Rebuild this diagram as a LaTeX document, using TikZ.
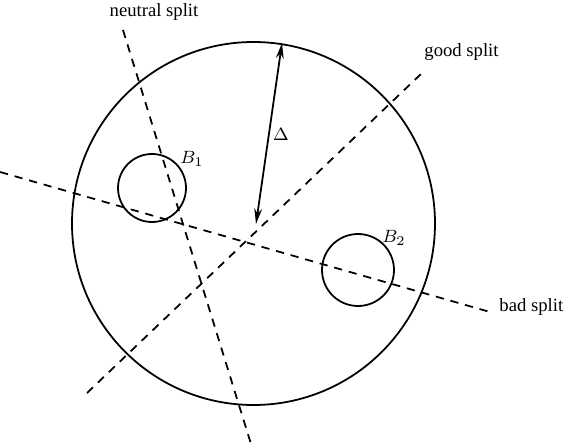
\documentclass[tikz,border=0pt]{standalone}
\usepackage{fontspec}
\setmainfont{Liberation Serif}
\usetikzlibrary{arrows.meta}
\begin{document}
\begin{tikzpicture}[x=0.45pt,y=-0.45pt,
  ring/.style={draw,circle,line width=0.8pt,inner sep=0pt},
  splitline/.style={line width=0.8pt,dash pattern=on 3.7pt off 3.1pt},
  lbl/.style={inner sep=0pt,font=\fontsize{8.4pt}{10pt}\selectfont}]
\useasboundingbox (0,0) rectangle (564,444);
\node[ring,minimum size=363*0.45pt] (big) at (253.5,223.5) {};
\node[ring,minimum size=68*0.45pt] (b1) at (152,188) {};
\node[ring,minimum size=72*0.45pt] (b2) at (358,270) {};
\coordinate (n1) at (123,30);
\coordinate (n2) at (251,444);
\coordinate (g1) at (87,393);
\coordinate (g2) at (422,73);
\coordinate (s1) at (0,172);
\coordinate (s2) at (490,312);
\coordinate (a1) at (256,224);
\coordinate (a2) at (282,43);
\draw[splitline] (n1) -- (n2);
\draw[splitline] (g1) -- (g2);
\draw[splitline] (s1) -- (s2);
\draw[line width=0.8pt,{Stealth[length=7pt,width=3.5pt]}-{Stealth[length=7pt,width=3.5pt]}] (a1) -- (a2);
\node[lbl] (ln) at (154,12) {neutral split};
\node[lbl] (lg) at (461.5,52) {good split};
\node[lbl,anchor=west] (lb) at (499,307) {bad split};
\node[lbl] (lb1) at (192,159) {$B_1$};
\node[lbl] (lb2) at (394,238) {$B_2$};
\node[lbl] (ld) at (281,134) {$\Delta$};
\end{tikzpicture}
\end{document}
